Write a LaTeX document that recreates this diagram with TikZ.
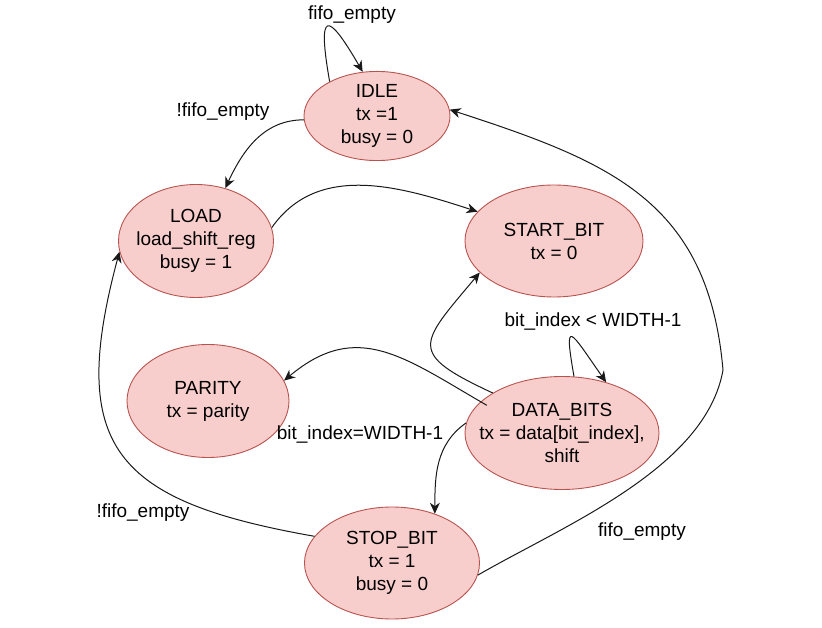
\documentclass[tikz,border=0pt]{standalone}
\usepackage{fontspec}
\setmainfont{Liberation Sans}
\usetikzlibrary{shapes.geometric, arrows.meta, positioning}

\definecolor{statefill}{HTML}{F8CECC}
\definecolor{stateline}{HTML}{B85450}

\begin{document}
\begin{tikzpicture}[
        x=1pt, y=1pt,
        state/.style={ellipse, draw=stateline, fill=statefill, line width=0.9pt, inner xsep=-16pt, inner ysep=0pt, align=center, font=\fontsize{19}{23}\selectfont},
        trans/.style={-{Stealth[length=11pt, width=10pt, inset=3.5pt]}, line width=1pt, draw=black!90},
        cond/.style={inner sep=0pt, font=\fontsize{19}{23}\selectfont}
    ]
        \useasboundingbox (0,0) rectangle (822,627);

        % states
        \node[state, minimum width=146pt, minimum height=88pt] (idle) at (377,511) {IDLE\\tx =1\\busy = 0};
        \node[state, minimum width=155pt, minimum height=113pt] (load) at (196,386) {LOAD\\load\_shift\_reg\\busy = 1};
        \node[state, minimum width=178pt, minimum height=112pt] (start) at (554,386) {START\_BIT\\tx = 0};
        \node[state, minimum width=162pt, minimum height=113pt] (parity) at (208,226) {PARITY\\tx = parity};
        \node[state, minimum width=194pt, minimum height=113pt] (data) at (562,194) {DATA\_BITS\\tx = data[bit\_index],\\shift};
        \node[state, minimum width=175pt, minimum height=112pt] (stop) at (392,64) {STOP\_BIT\\tx = 1\\busy = 0};
        \coordinate (bend) at (723,257);

        % transitions
        \draw[trans] (idle.144) to[out=100, in=120, distance=72pt] (idle.108);
        \draw[trans] (idle.183) to[out=180, in=65] (load.61);
        \draw[trans] (load.10) to[out=55, in=162] (start.159);
        \draw[trans] (data.150) to[out=155, in=230, looseness=2] (start.203);
        \draw[trans] (data.78) to[out=100, in=125, distance=62pt] (data.49);
        \draw[trans] ([xshift=10pt]data.162) to[out=150, in=40, looseness=1.2] (parity.15);
        \draw[trans] (data.174) to[out=215, in=90] (stop.49);
        \draw[trans] (stop.161) to[out=170, in=255, looseness=1.5] (load.188);
        \draw[trans] (stop.352) to[out=30, in=260, looseness=0.8] (bend) to[out=95, in=342, looseness=1.15] (idle.5);

        % conditions
        \node[cond] (idleloop) at (352,612) {fifo\_empty};
        \node[cond] (idleload) at (223,515) {!fifo\_empty};
        \node[cond] (dataloop) at (593,305) {bit\_index < WIDTH-1};
        \node[cond] (dataend) at (360,192) {bit\_index=WIDTH-1};
        \node[cond] (stopload) at (143,114) {!fifo\_empty};
        \node[cond] (stopidle) at (642,95) {fifo\_empty};
    \end{tikzpicture}
\end{document}
